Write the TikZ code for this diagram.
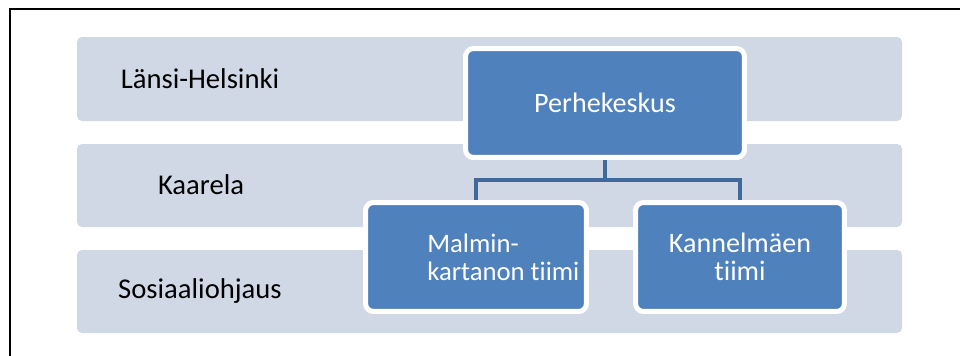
\documentclass[tikz,border=0pt]{standalone}
\usepackage{fontspec}
\setmainfont{Carlito}[Ligatures={NoCommon,NoDiscretionary,NoContextual}]
\pgfdeclarelayer{bandlayer}
\pgfdeclarelayer{linklayer}
\pgfsetlayers{bandlayer,linklayer,main}
\definecolor{band}{HTML}{D0D7E5}
\definecolor{boxblue}{HTML}{4F81BD}
\definecolor{linkblue}{HTML}{41689A}
\begin{document}
\begin{tikzpicture}[x=0.02cm,y=-0.02cm,
  bandbox/.style={fill=band, rounded corners=0.1cm},
  bandlabel/.style={font=\fontsize{16.3}{19}\selectfont, text=black, inner sep=0pt},
  unitbox/.style={fill=boxblue, draw=white, line width=0.1cm, rounded corners=0.16cm,
     inner sep=0pt, minimum height=2.18cm, text=white, align=center,
     font=\fontsize{16}{15.9}\selectfont},
  unittext/.style={text=white, inner sep=0pt, font=\fontsize{15.2}{15.9}\selectfont},
  link/.style={draw=linkblue, line width=0.08cm}]
\useasboundingbox (0,0) rectangle (960,355);
\clip (0,0) rectangle (960,355);
\draw[line width=1.1pt, black] (10,9) rectangle (980,380);
% bands
\begin{pgfonlayer}{bandlayer}
\path[bandbox] (77,37) rectangle (902,121);
\path[bandbox] (77,144) rectangle (902,227);
\path[bandbox] (77,250) rectangle (902,333);
\end{pgfonlayer}
\node[bandlabel] (l1) at (200,79) {Länsi-Helsinki};
\node[bandlabel] (l2) at (201,185) {Kaarela};
\node[bandlabel] (l3) at (200,291) {Sosiaaliohjaus};
% boxes
\node[unitbox, minimum width=5.58cm] (p) at (605,103) {Perhekeskus};
\node[unitbox, minimum width=4.42cm] (m) at (476,257) {};
\node[unitbox, minimum width=4.18cm] (k) at (740,257) {Kannelmäen\\tiimi};
\node[unittext, align=left, anchor=west] (mt) at (427,257) {Malmin-\\kartanon tiimi};
% connectors
\coordinate (j) at (605,180);
\begin{pgfonlayer}{linklayer}
\draw[link] (p.south) -- (j);
\draw[link] (j) -| (m.north);
\draw[link] (j) -| (k.north);
\end{pgfonlayer}
\end{tikzpicture}
\end{document}
